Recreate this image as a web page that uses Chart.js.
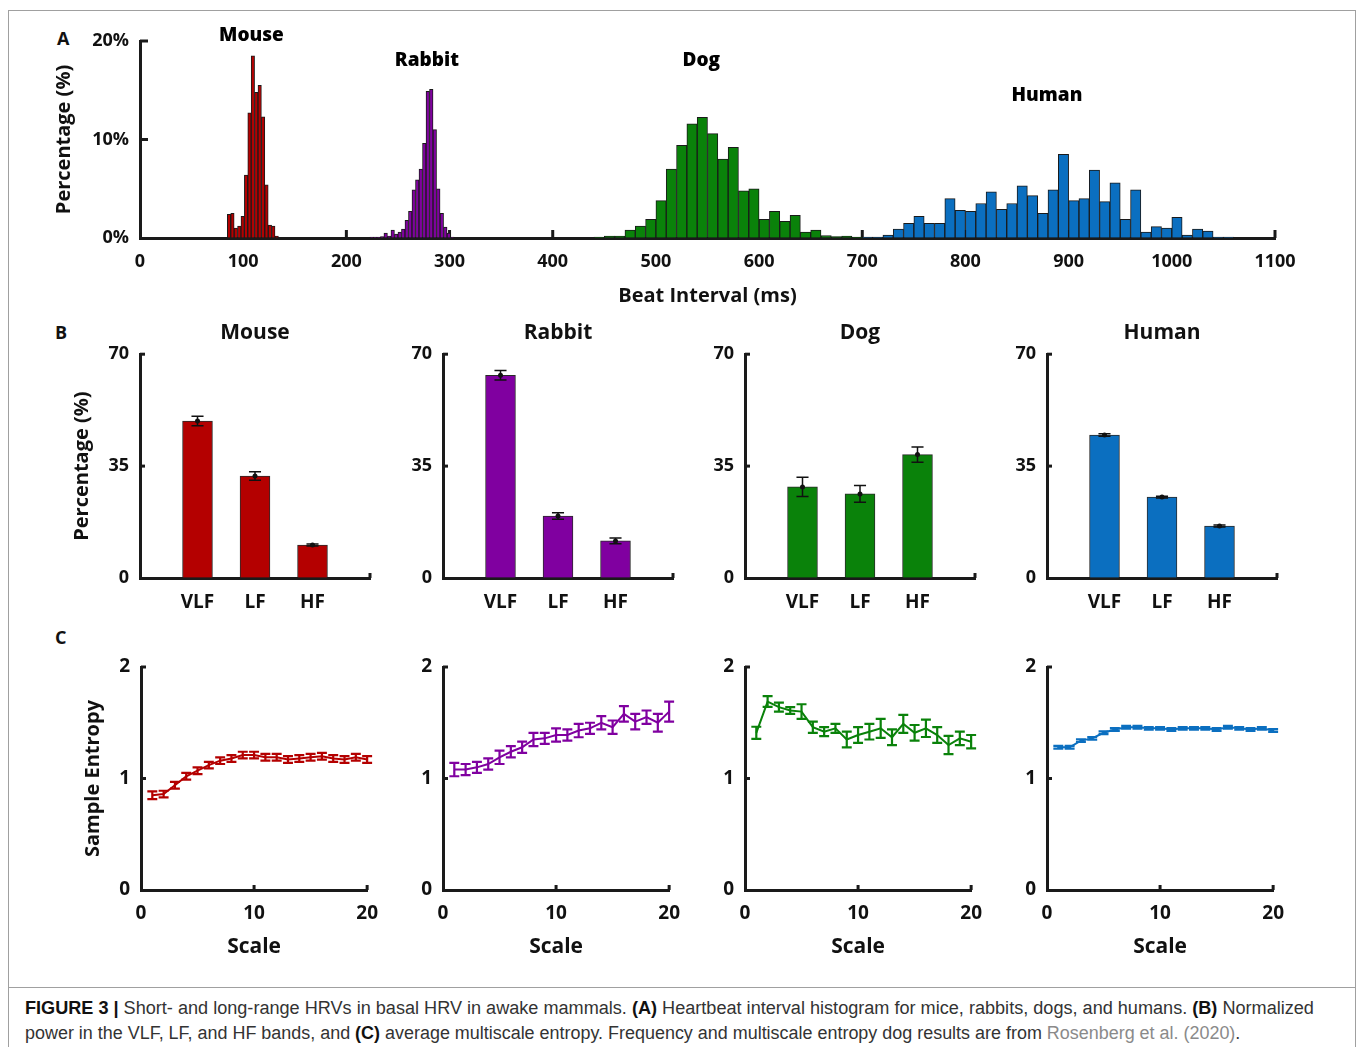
<!DOCTYPE html>
<html>
<head>
<meta charset="utf-8">
<script src="https://cdn.jsdelivr.net/npm/chart.js"></script>
<style>
body{margin:0;background:#fff;}
#fig{position:relative;width:1357px;height:1047px;overflow:hidden;font-family:"Open Sans",sans-serif;background:#fff;}
canvas{position:absolute;}
.let{position:absolute;font-weight:700;font-size:18px;line-height:24px;color:#111;}
#frame{position:absolute;left:8px;top:10px;width:1346px;height:1060px;border:1px solid #a0a0a0;}
#sep{position:absolute;left:8px;top:987px;width:1347px;border-top:1px solid #a0a0a0;}
.cap{position:absolute;left:25px;font-family:"Liberation Sans Narrow","Arial Narrow","Liberation Sans",sans-serif;font-size:18px;line-height:22px;white-space:nowrap;color:#333;transform-origin:0 0;}
.cap b{color:#111;}
.cap .ref{color:#8a8a8a;}
</style>
</head>
<body>
<div id="fig">
<div id="frame"></div>
<div id="sep"></div>
<div class="let" style="left:57px;top:26px">A</div>
<div class="let" style="left:55px;top:320px">B</div>
<div class="let" style="left:55px;top:625px">C</div>

<canvas id="cA" width="1357" height="320" style="left:0;top:0"></canvas>
<canvas id="bM" width="390" height="310" style="left:0;top:310px"></canvas>
<canvas id="bR" width="310" height="310" style="left:383px;top:310px"></canvas>
<canvas id="bD" width="310" height="310" style="left:685px;top:310px"></canvas>
<canvas id="bH" width="310" height="310" style="left:987px;top:310px"></canvas>
<canvas id="cM" width="390" height="340" style="left:0;top:640px"></canvas>
<canvas id="cR" width="309" height="340" style="left:383px;top:640px"></canvas>
<canvas id="cD" width="309" height="340" style="left:685px;top:640px"></canvas>
<canvas id="cH" width="309" height="340" style="left:987px;top:640px"></canvas>

<div class="cap" data-w="1289" style="top:997px"><b>FIGURE 3 |</b> Short- and long-range HRVs in basal HRV in awake mammals. <b>(A)</b> Heartbeat interval histogram for mice, rabbits, dogs, and humans. <b>(B)</b> Normalized</div>
<div class="cap" data-w="1215" style="top:1022px">power in the VLF, LF, and HF bands, and <b>(C)</b> average multiscale entropy. Frequency and multiscale entropy dog results are from <span class="ref">Rosenberg et al. (2020)</span>.</div>
</div>

<script>
// ---- panel A: beat interval histograms (% of beats per bin) ----
const speciesNames = ['Mouse','Rabbit','Dog','Human'];
const colMouse = '#b40000', colRabbit = '#8000a0', colDog = '#0a820a', colHuman = '#0b6fc0';

const mouseBins = [86.3,89.6,92.9,96.2,99.5,102.8,106.1,109.4,112.7,116.0,119.3,122.6,125.9,129.2,132.5];
const mouseHist = [2.4,2.5,1.0,1.2,2.2,6.4,12.7,18.5,14.8,15.5,12.3,5.4,1.3,1.2,0.2];

const rabbitBins = [224.5,227.9,231.3,234.7,238.1,241.5,244.9,248.3,251.7,255.1,258.5,261.9,265.3,268.7,272.1,275.5,278.9,282.3,285.7,289.1,292.5,295.9,299.3,302.7];
const rabbitHist = [0.1,0.1,0.1,0.15,0.5,0.2,0.8,0.4,0.6,0.9,1.8,2.7,4.9,5.9,7.0,9.6,14.9,15.1,11.0,5.0,2.5,1.1,0.5,0.1];

const dogBins = [445,455,465,475,485,495,505,515,525,535,545,555,565,575,585,595,605,615,625,635,645,655,665,675,685,695];
const dogHist = [0.1,0.2,0.2,0.8,1.2,1.9,3.8,7.0,9.4,11.6,12.25,10.6,8.0,9.2,4.8,5.0,1.9,2.7,1.7,2.3,0.6,0.8,0.25,0.15,0.2,0.1];

const humanBins = [705,715,725,735,745,755,765,775,785,795,805,815,825,835,845,855,865,875,885,895,905,915,925,935,945,955,965,975,985,995,1005,1015,1025,1035,1045,1055];
const humanHist = [0.1,0.1,0.3,0.9,1.5,2.2,1.5,1.5,4.0,2.8,2.7,3.5,4.7,2.9,3.5,5.3,4.3,2.5,4.9,8.5,3.8,4.0,6.9,3.7,5.6,1.9,4.9,0.6,1.15,1.0,2.1,0.3,0.9,0.7,0.1,0.1];

// ---- panel B: normalized power per band (mean, error) ----
const bands = ['VLF','LF','HF'];
const mouseBand = [49.1,31.9,10.3];   const mouseBandErr = [1.5,1.3,0.3];
const rabbitBand = [63.4,19.4,11.6];  const rabbitBandErr = [1.5,1.0,0.9];
const dogBand = [28.5,26.3,38.6];     const dogBandErr = [3.0,2.6,2.4];
const humanBand = [44.7,25.3,16.25];  const humanBandErr = [0.4,0.3,0.3];

// ---- panel C: multiscale sample entropy ----
const mseScale = [1,2,3,4,5,6,7,8,9,10,11,12,13,14,15,16,17,18,19,20];
const mouseMse = [0.85,0.86,0.94,1.02,1.07,1.12,1.16,1.18,1.21,1.21,1.19,1.19,1.17,1.18,1.19,1.20,1.18,1.17,1.19,1.17];
const mouseMseErr = [0.035,0.03,0.03,0.03,0.03,0.03,0.03,0.03,0.03,0.03,0.03,0.03,0.03,0.03,0.03,0.03,0.03,0.03,0.03,0.03];
const rabbitMse = [1.08,1.08,1.10,1.13,1.19,1.24,1.28,1.35,1.36,1.39,1.39,1.43,1.45,1.50,1.46,1.58,1.51,1.55,1.50,1.60];
const rabbitMseErr = [0.06,0.05,0.05,0.05,0.06,0.05,0.05,0.06,0.05,0.06,0.05,0.06,0.05,0.06,0.06,0.07,0.07,0.06,0.08,0.09];
const dogMse = [1.41,1.69,1.64,1.61,1.60,1.46,1.42,1.45,1.35,1.39,1.42,1.45,1.37,1.49,1.41,1.45,1.39,1.30,1.36,1.33];
const dogMseErr = [0.054,0.048,0.04,0.03,0.066,0.05,0.04,0.04,0.07,0.07,0.07,0.085,0.07,0.08,0.07,0.078,0.07,0.082,0.06,0.06];
const humanMse = [1.28,1.28,1.34,1.36,1.41,1.44,1.46,1.46,1.45,1.45,1.44,1.45,1.45,1.45,1.44,1.46,1.45,1.44,1.45,1.43];
const humanMseErr = [0.012,0.012,0.012,0.012,0.012,0.012,0.012,0.012,0.012,0.012,0.012,0.012,0.012,0.012,0.012,0.012,0.012,0.012,0.012,0.012];

const FONT = '"Open Sans", sans-serif';
Chart.defaults.font.family = FONT;
Chart.defaults.color = '#111';

// width in px of w units on the x scale
function pxOf(chart, w){
  const s = chart.scales && chart.scales.x;
  if(!s || !s.width) return 3;
  return Math.abs(s.getPixelForValue(w) - s.getPixelForValue(0));
}

// small inward tick marks, drawn under the data
const inTicks = {
  id:'inTicks',
  beforeDatasetsDraw(chart, args, opt){
    const ctx = chart.ctx, a = chart.chartArea;
    const xs = chart.scales.x, ys = chart.scales.y;
    const len = opt.len || 5;
    ctx.save();
    ctx.strokeStyle = '#1a1a1a';
    ctx.lineWidth = 3;
    xs.ticks.forEach(t => {
      if(t.value === xs.min) return;
      const p = xs.getPixelForValue(t.value);
      ctx.beginPath(); ctx.moveTo(p, a.bottom); ctx.lineTo(p, a.bottom - len); ctx.stroke();
    });
    ys.ticks.forEach(t => {
      if(t.value === ys.min) return;
      const p = ys.getPixelForValue(t.value);
      ctx.beginPath(); ctx.moveTo(a.left, p); ctx.lineTo(a.left + len, p); ctx.stroke();
    });
    ctx.restore();
  }
};

// error bars read from dataset.errs
const errBars = {
  id:'errBars',
  afterDatasetsDraw(chart, args, opt){
    const ctx = chart.ctx;
    const xs = chart.scales.x, ys = chart.scales.y;
    const half = pxOf(chart, opt.cap);
    chart.data.datasets.forEach(ds => {
      if(!ds.errs) return;
      ctx.save();
      ctx.strokeStyle = opt.color || ds.borderColor;
      ctx.fillStyle = ctx.strokeStyle;
      ctx.lineWidth = opt.width;
      ds.data.forEach((p, i) => {
        const x = xs.getPixelForValue(p.x);
        const lo = ys.getPixelForValue(p.y - ds.errs[i]);
        const hi = ys.getPixelForValue(p.y + ds.errs[i]);
        ctx.beginPath();
        ctx.moveTo(x, lo); ctx.lineTo(x, hi);
        ctx.moveTo(x - half, lo); ctx.lineTo(x + half, lo);
        ctx.moveTo(x - half, hi); ctx.lineTo(x + half, hi);
        ctx.stroke();
        if(opt.dot){
          ctx.beginPath();
          ctx.arc(x, ys.getPixelForValue(p.y), opt.dot, 0, Math.PI*2);
          ctx.fill();
        }
      });
      ctx.restore();
    });
  }
};

// species names over the histogram, in data units
const nameTags = [
  {text:speciesNames[0], x:108, y:20.5},
  {text:speciesNames[1], x:278, y:18},
  {text:speciesNames[2], x:544, y:18},
  {text:speciesNames[3], x:879, y:14.5}
];
const tagPlugin = {
  id:'tagPlugin',
  afterDraw(chart){
    const ctx = chart.ctx, xs = chart.scales.x, ys = chart.scales.y;
    ctx.save();
    ctx.font = '800 19px ' + FONT;
    ctx.fillStyle = '#000';
    ctx.textAlign = 'center';
    ctx.textBaseline = 'middle';
    nameTags.forEach(t => ctx.fillText(t.text, xs.getPixelForValue(t.x), ys.getPixelForValue(t.y)));
    ctx.restore();
  }
};

function axis(min, max, step, size, pad, fit, title, extraTicks){
  return {
    type:'linear', min:min, max:max, offset:false,
    ticks: Object.assign({stepSize:step, autoSkip:false, maxRotation:0, padding:pad, color:'#111',
      font:{size:size, weight:'bold'}, callback: v => String(v)}, extraTicks || {}),
    grid:{drawOnChartArea:false, drawTicks:false},
    border:{display:true, color:'#1a1a1a', width:3},
    title: title || {display:false},
    afterFit: fit
  };
}

function axTitle(text, size, pad){
  return {display:true, text:text, color:'#111', font:{size:size, weight:'bold'}, padding:pad};
}

function histSet(bins, vals, col, w){
  return {
    data: bins.map((b, i) => ({x:b, y:vals[i]})),
    backgroundColor: col,
    borderColor: '#1a1a1a',
    borderWidth: 1,
    grouped: false,
    barThickness: ctx => pxOf(ctx.chart, w)
  };
}

new Chart(document.getElementById('cA'), {
  type:'bar',
  data:{datasets:[
    histSet(mouseBins, mouseHist, colMouse, 3.3),
    histSet(rabbitBins, rabbitHist, colRabbit, 3.4),
    histSet(dogBins, dogHist, colDog, 10),
    histSet(humanBins, humanHist, colHuman, 10)
  ]},
  options:{
    responsive:false, animation:false,
    layout:{padding:{top:41, right:82, left:0, bottom:0}},
    plugins:{legend:{display:false}, tooltip:{enabled:false}, inTicks:{len:8}},
    scales:{
      x: axis(0, 1100, 100, 18, 13, s => { s.height = 82; },
        axTitle('Beat Interval (ms)', 20, {top:0, bottom:12})),
      y: axis(0, 20, 10, 18, 11, s => { s.width = 140; },
        axTitle('Percentage (%)', 20, {top:52, bottom:0}),
        {callback: v => v + '%'})
    }
  },
  plugins:[inTicks, tagPlugin]
});

function bandChart(id, name, vals, errs, col, yw, yTitle){
  new Chart(document.getElementById(id), {
    type:'bar',
    data:{datasets:[{
      data: bands.map((b, i) => ({x:i + 1, y:vals[i]})),
      errs: errs,
      backgroundColor: col,
      borderColor: '#2a2a2a',
      borderWidth: 1,
      grouped: false,
      barThickness: ctx => pxOf(ctx.chart, 0.52)
    }]},
    options:{
      responsive:false, animation:false,
      layout:{padding:{top:0, right:20, left:0, bottom:0}},
      plugins:{
        legend:{display:false}, tooltip:{enabled:false},
        title:{display:true, fullSize:false, text:name, color:'#111', font:{size:21, weight:'bold'}, padding:{top:10, bottom:9}},
        inTicks:{len:5},
        errBars:{cap:0.105, color:'#111', width:1.5, dot:2.5}
      },
      scales:{
        x: axis(0, 4, 1, 19, 13, s => { s.height = 42; }, null, {callback: v => bands[v - 1] || ''}),
        y: axis(0, 70, 35, 18, 11, s => { s.width = yw; },
          yTitle ? axTitle(yTitle, 20, {top:70, bottom:0}) : null)
      }
    },
    plugins:[inTicks, errBars]
  });
}

bandChart('bM', speciesNames[0], mouseBand, mouseBandErr, colMouse, 140, 'Percentage (%)');
bandChart('bR', speciesNames[1], rabbitBand, rabbitBandErr, colRabbit, 60);
bandChart('bD', speciesNames[2], dogBand, dogBandErr, colDog, 60);
bandChart('bH', speciesNames[3], humanBand, humanBandErr, colHuman, 60);

function mseChart(id, vals, errs, col, yw, yTitle){
  new Chart(document.getElementById(id), {
    type:'line',
    data:{datasets:[{
      data: mseScale.map((s, i) => ({x:s, y:vals[i]})),
      errs: errs,
      borderColor: col,
      borderWidth: 2,
      pointRadius: 0,
      tension: 0,
      fill: false
    }]},
    options:{
      responsive:false, animation:false,
      layout:{padding:{top:27, right:22, left:0, bottom:0}},
      plugins:{
        legend:{display:false}, tooltip:{enabled:false},
        inTicks:{len:5},
        errBars:{cap:0.44, width:2.2}
      },
      scales:{
        x: axis(0, 20, 10, 19, 12, s => { s.height = 90; },
          axTitle('Scale', 21, {top:0, bottom:20})),
        y: axis(0, 2, 1, 19, 11, s => { s.width = yw; },
          yTitle ? axTitle(yTitle, 20, {top:81, bottom:0}) : null)
      }
    },
    plugins:[inTicks, errBars]
  });
}

mseChart('cM', mouseMse, mouseMseErr, colMouse, 141, 'Sample Entropy');
mseChart('cR', rabbitMse, rabbitMseErr, colRabbit, 60);
mseChart('cD', dogMse, dogMseErr, colDog, 60);
mseChart('cH', humanMse, humanMseErr, colHuman, 60);

// squeeze caption lines to their width in the figure
document.querySelectorAll('.cap').forEach(el => {
  const w = el.scrollWidth;
  if(w) el.style.transform = 'scaleX(' + (el.dataset.w / w) + ')';
});
</script>
</body>
</html>
